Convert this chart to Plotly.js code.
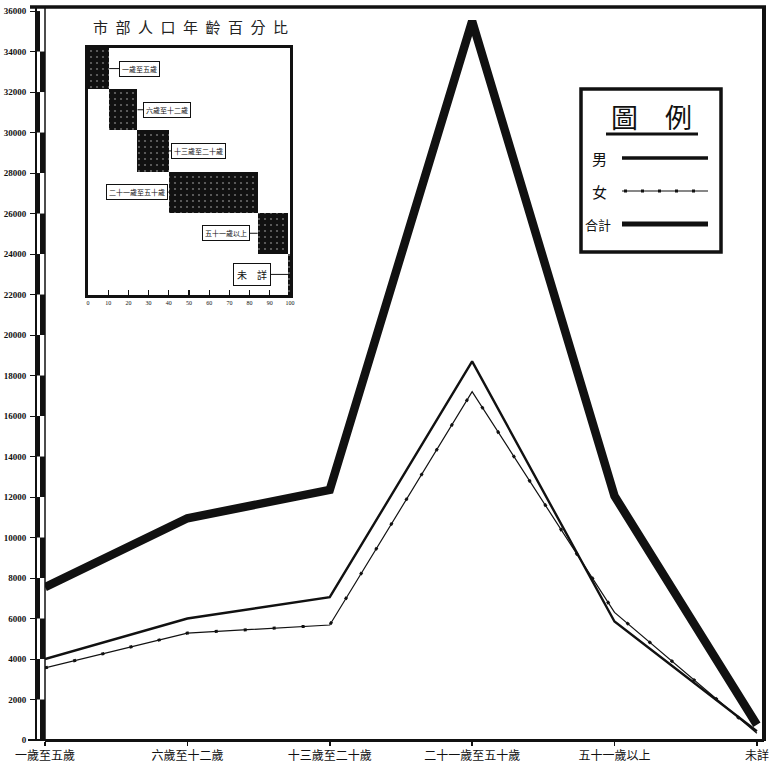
<!DOCTYPE html>
<html>
<head>
<meta charset="utf-8">
<script src="https://cdn.plot.ly/plotly-3.0.1.min.js"></script>
<style>
html,body{margin:0;padding:0;background:#fff;}
#chart{width:772px;height:772px;}
</style>
</head>
<body>
<div id="chart"></div>
<script>
// ---- data ----
const categories = ['一歲至五歲','六歲至十二歲','十三歲至二十歲','二十一歲至五十歲','五十一歲以上','未詳'];
const male   = [4000, 6000, 7050, 18700, 5850, 430];
const female = [3560, 5280, 5680, 17200, 6300, 330];
const total  = [7550, 10950, 12350, 35500, 12050, 750];
const yTicks = [0,2000,4000,6000,8000,10000,12000,14000,16000,18000,20000,22000,24000,26000,28000,30000,32000,34000,36000];

// inset: 市部人口年齡百分比
const insetTitle = ['市','部','人','口','年','齡','百','分','比'];
const insetCats = ['一歲至五歲','六歲至十二歲','十三歲至二十歲','二十一歲至五十歲','五十一歲以上','未　詳'];
const insetPct = [10.5, 14, 15.5, 44, 15, 1];
const insetTicks = [0,10,20,30,40,50,60,70,80,90,100];

const legendTitle = '圖　例';
const legendNames = ['男','女','合計'];

// ---- geometry helpers (decoration only) ----
const L = 35, R = 8, T = 8, B = 32, W = 772, H = 772;
const PW = W - L - R, PH = H - T - B;
const px = v => (v - L) / PW;
const py = v => (H - B - v) / PH;

const CJK = '"Noto Sans CJK TC", "Noto Sans CJK SC", sans-serif';

// cumulative bases for inset bars
const insetBase = [];
let acc = 0;
insetPct.forEach(p => { insetBase.push(acc); acc += p; });
const xIdx = categories.map((c, i) => i);

const traces = [
  {x: xIdx, y: total, mode: 'lines', line: {color: '#111', width: 8.5}, hoverinfo: 'skip', showlegend: false},
  {x: xIdx, y: male, mode: 'lines', line: {color: '#111', width: 2.4}, showlegend: false},
  {x: xIdx, y: female, mode: 'lines', line: {color: '#111', width: 1.2}, showlegend: false},
  {x: xIdx, y: female, mode: 'lines', line: {color: '#111', width: 3, dash: '3px,26px'}, showlegend: false, hoverinfo: 'skip'},
  {type: 'bar', orientation: 'h', xaxis: 'x2', yaxis: 'y2',
   y: insetCats, x: insetPct, base: insetBase, width: 1,
   marker: {color: '#151515', line: {width: 0},
            pattern: {shape: '.', fgcolor: '#6a6a6a', bgcolor: '#111', size: 6, solidity: 0.1}},
   showlegend: false, hoverinfo: 'skip'}
];

const shapes = [];
// double checkered bar along y axis (between the free y axis and the plot edge)
const yFrac = v => v / 36150;
for (let i = 0; i < yTicks.length - 1; i++) {
  const leftBlack = (i % 2 === 1);
  shapes.push({type: 'rect', xref: 'paper', yref: 'paper',
    x0: leftBlack ? px(35) : px(40), x1: leftBlack ? px(40) : px(45),
    y0: yFrac(yTicks[i]), y1: Math.min(1, yFrac(yTicks[i + 1])),
    fillcolor: '#111', line: {width: 0}, layer: 'above'});
}
// right-edge line of checkered bar
shapes.push({type: 'line', xref: 'paper', yref: 'paper', x0: px(45), x1: px(45),
  y0: 0, y1: 1, line: {color: '#111', width: 1.5}});
// top border & right border
shapes.push({type: 'line', xref: 'paper', yref: 'paper', x0: px(30), x1: px(766), y0: py(7), y1: py(7), line: {color: '#111', width: 3.5}});
shapes.push({type: 'line', xref: 'paper', yref: 'paper', x0: px(764), x1: px(764), y0: py(6), y1: py(741), line: {color: '#111', width: 4}});
// bottom axis extension
shapes.push({type: 'line', xref: 'paper', yref: 'paper', x0: px(28), x1: px(766), y0: py(740), y1: py(740), line: {color: '#111', width: 2}});

// legend box
shapes.push({type: 'rect', xref: 'paper', yref: 'paper', x0: px(581), x1: px(721), y0: py(89), y1: py(252), line: {color: '#111', width: 3.5}, fillcolor: 'rgba(0,0,0,0)'});
shapes.push({type: 'line', xref: 'paper', yref: 'paper', x0: px(606), x1: px(698), y0: py(134), y1: py(134), line: {color: '#111', width: 3}});
shapes.push({type: 'line', xref: 'paper', yref: 'paper', x0: px(622), x1: px(708), y0: py(158), y1: py(158), line: {color: '#111', width: 3.5}});
shapes.push({type: 'line', xref: 'paper', yref: 'paper', x0: px(622), x1: px(708), y0: py(191), y1: py(191), line: {color: '#111', width: 1.2}});
shapes.push({type: 'line', xref: 'paper', yref: 'paper', x0: px(624), x1: px(708), y0: py(191), y1: py(191), line: {color: '#111', width: 3, dash: '3px,14px'}});
shapes.push({type: 'line', xref: 'paper', yref: 'paper', x0: px(622), x1: px(708), y0: py(224), y1: py(224), line: {color: '#111', width: 5}});

const annotations = [];
// legend texts
annotations.push({xref: 'paper', yref: 'paper', x: px(651), y: py(116), text: legendTitle, showarrow: false,
  font: {family: CJK, size: 27, color: '#111'}, xanchor: 'center', yanchor: 'middle'});
const legY = [158, 191, 224];
legendNames.forEach((n, i) => {
  annotations.push({xref: 'paper', yref: 'paper', x: px(n.length > 1 ? 583 : 590), y: py(legY[i]), text: n, showarrow: false,
    font: {family: CJK, size: n.length > 1 ? 13 : 15, color: '#111'}, xanchor: 'left', yanchor: 'middle'});
});
// inset title
annotations.push({xref: 'paper', yref: 'paper', x: px(190), y: py(27), text: insetTitle.join('\u2002'), showarrow: false,
  font: {family: CJK, size: 15, color: '#222'}, xanchor: 'center', yanchor: 'middle'});
// inset bar labels
const labelSide = ['right','right','right','left','left','left'];
insetCats.forEach((c, i) => {
  const right = labelSide[i] === 'right';
  const big = c.length <= 3;
  annotations.push({xref: 'x2', yref: 'y2', x: right ? insetBase[i] + insetPct[i] : insetBase[i], y: c,
    text: c, showarrow: true, arrowhead: 0, arrowwidth: 1, arrowcolor: '#111',
    ax: right ? 30 : (big ? -36 : -32), ay: 0,
    font: {family: CJK, size: big ? 10 : 7, color: '#111'},
    bordercolor: '#111', borderwidth: 1, borderpad: big ? 3 : 2, bgcolor: '#fff'});
});

const layout = {
  width: W, height: H,
  margin: {l: L, r: R, t: T, b: B},
  paper_bgcolor: '#fff', plot_bgcolor: '#fff',
  showlegend: false,
  bargap: 0,
  xaxis: {
    domain: [10 / PW, 1],
    range: [0, 5.05],
    tickmode: 'array', tickvals: xIdx, ticktext: categories,
    tickfont: {family: CJK, size: 12, color: '#111'},
    ticks: 'outside', ticklen: 4, tickwidth: 1.5, tickcolor: '#111',
    showline: true, linecolor: '#111', linewidth: 2,
    showgrid: false, zeroline: false, fixedrange: true
  },
  yaxis: {
    anchor: 'free', position: 0,
    range: [0, 36150],
    tickmode: 'array', tickvals: yTicks, ticktext: yTicks.map(String),
    tickfont: {family: '"Liberation Serif", serif', size: 9, color: '#111', weight: 'bold'},
    ticks: 'outside', ticklen: 5, tickwidth: 1, tickcolor: '#111',
    ticklabelstandoff: 2,
    showline: true, linecolor: '#111', linewidth: 1.5,
    showgrid: false, zeroline: false, fixedrange: true
  },
  xaxis2: {
    domain: [px(88), px(290)], anchor: 'y2',
    range: [0, 100],
    tickmode: 'array', tickvals: insetTicks, ticktext: insetTicks.map(String),
    tickfont: {family: '"Liberation Serif", serif', size: 6, color: '#111'},
    ticks: 'inside', ticklen: 5, tickwidth: 1.2, tickcolor: '#111',
    showline: true, mirror: true, linecolor: '#111', linewidth: 3,
    showgrid: false, zeroline: false, fixedrange: true
  },
  yaxis2: {
    domain: [py(295), py(48)], anchor: 'x2',
    type: 'category', categoryorder: 'array', categoryarray: insetCats,
    range: [5.5, -0.5],
    showticklabels: false, ticks: '',
    showline: true, mirror: true, linecolor: '#111', linewidth: 3,
    showgrid: false, zeroline: false, fixedrange: true
  },
  shapes: shapes,
  annotations: annotations
};

Plotly.newPlot('chart', traces, layout, {displayModeBar: false, staticPlot: true});
</script>
</body>
</html>
